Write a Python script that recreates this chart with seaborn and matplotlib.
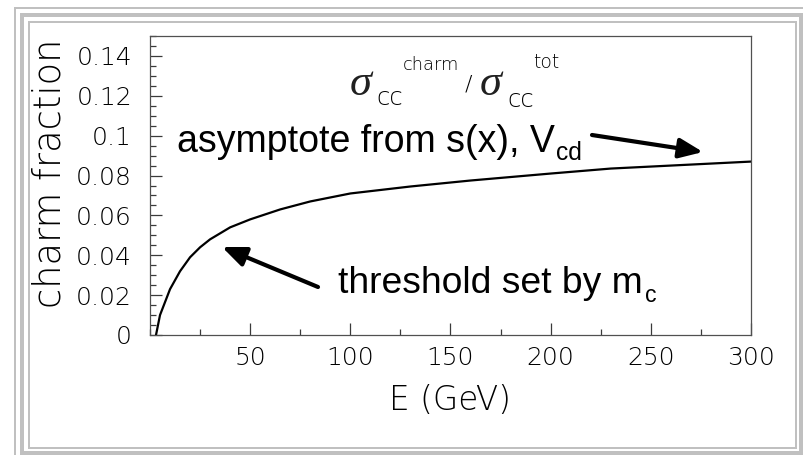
import matplotlib
matplotlib.use("Agg")
import matplotlib.pyplot as plt
from matplotlib.patches import Rectangle
from matplotlib.ticker import FixedLocator, MultipleLocator, FixedFormatter
import pandas as pd
import seaborn as sns

# Charm fraction of the charged-current cross section vs. neutrino energy
energy_gev = [3, 5, 10, 15, 20, 25, 30, 40, 50, 65, 80, 100, 130, 160, 200, 230, 260, 300]
charm_fraction = [0.0, 0.010, 0.023, 0.032, 0.039, 0.044, 0.048, 0.054, 0.058,
                  0.063, 0.067, 0.071, 0.0745, 0.0775, 0.081, 0.0835, 0.085, 0.087]

x_ticks = [50, 100, 150, 200, 250, 300]
x_tick_labels = ["50", "100", "150", "200", "250", "300"]
y_ticks = [0, 0.02, 0.04, 0.06, 0.08, 0.10, 0.12, 0.14]
y_tick_labels = ["0", "0.02", "0.04", "0.06", "0.08", "0.1", "0.12", "0.14"]

sns.set_theme(style="white")
plt.rcParams["font.family"] = ["DejaVu Sans"]

W, H = 804, 455
fig = plt.figure(figsize=(W / 100, H / 100), dpi=100)
fig.patch.set_facecolor("white")


def fx(x):
    return x / W


def fy(y):
    return 1 - y / H


def band(x0, y0, x1, y1, color="#c0c0c0"):
    fig.add_artist(Rectangle((fx(x0), fy(y1)), (x1 - x0) / W, (y1 - y0) / H,
                             transform=fig.transFigure, facecolor=color,
                             edgecolor="none", zorder=0))


# Grey ridge border around the panel
band(14, 7, 804, 9)
band(14, 7, 16, 455)
band(20, 13, 803, 17)
band(20, 13, 24, 455)
band(799, 13, 803, 455)
band(20, 451, 803, 455)
band(28, 21, 797, 23)
band(28, 21, 30, 449)
band(795, 21, 797, 449)
band(28, 447, 797, 449)

ax = fig.add_axes([fx(150), fy(335), (751 - 150) / W, (335 - 36) / H])
ax.set_facecolor("white")

df = pd.DataFrame({"E": energy_gev, "frac": charm_fraction})
sns.lineplot(data=df, x="E", y="frac", ax=ax, color="black", linewidth=1.6)

ax.set_xlim(0, 300)
ax.set_ylim(0, 0.15)
ax.xaxis.set_major_locator(FixedLocator(x_ticks))
ax.xaxis.set_major_formatter(FixedFormatter(x_tick_labels))
ax.xaxis.set_minor_locator(MultipleLocator(25))
ax.yaxis.set_major_locator(FixedLocator(y_ticks))
ax.yaxis.set_major_formatter(FixedFormatter(y_tick_labels))
ax.yaxis.set_minor_locator(MultipleLocator(0.005))

tick_color = "#3a3a3a"
label_ink = "#000000"
ax.tick_params(axis="both", which="major", direction="in", length=8.6, width=0.9,
               color=tick_color, labelsize=18, labelcolor=label_ink)
ax.tick_params(axis="both", which="minor", direction="in", length=4.3, width=0.9,
               color=tick_color)
ax.tick_params(axis="x", which="both", bottom=True, top=False, pad=8)
ax.tick_params(axis="y", which="both", left=True, right=False, pad=13)
for lab in ax.get_xticklabels() + ax.get_yticklabels():
    lab.set_fontweight("light")
for s in ax.spines.values():
    s.set_color("#505050")
    s.set_linewidth(0.9)

ax.set_xlabel("E (GeV)", fontsize=23.5, color=label_ink, fontweight="light")
ax.xaxis.set_label_coords(0.5, (335 - 384) / 299)
ax.set_ylabel("charm fraction", fontsize=26.5, color=label_ink, fontweight="light")
ax.yaxis.set_label_coords((67 - 150) / 601, (335 - 173) / 299)

# Ratio label  sigma_cc^charm / sigma_cc^tot
ink = "#202020"
sig = dict(family="Liberation Serif", style="italic", fontsize=32, color=ink, va="baseline")
sm = dict(family="DejaVu Sans", color="black", va="baseline", fontweight="light")
fig.text(fx(350), fy(95), "σ", **sig)
fig.text(fx(376), fy(105), "cc", fontsize=17.5, **sm)
fig.text(fx(403), fy(70), "charm", fontsize=12.8, **sm)
fig.text(fx(465), fy(91), "/", fontsize=16, **sm)
fig.text(fx(480), fy(95), "σ", **sig)
fig.text(fx(507), fy(107), "cc", fontsize=17.5, **sm)
fig.text(fx(533), fy(68), "tot", fontsize=13.5, **sm)

# Annotations with subscripts placed right after the main text
ann = dict(family="Liberation Sans", color="black", va="baseline")
renderer = fig.canvas.get_renderer()


def with_subscript(x, y, main, sub, size, sub_size, drop, gap):
    t = fig.text(fx(x), fy(y), main, fontsize=size, **ann)
    bb = t.get_window_extent(renderer)
    fig.text(bb.x1 / W + gap / W, fy(y + drop), sub, fontsize=sub_size, **ann)


with_subscript(177, 152, "asymptote from s(x), V", "cd", 27, 17.7, 8, 1)
with_subscript(338, 293, "threshold set by m", "c", 26.8, 16.6, 9, 2)

arrow = dict(arrowstyle="-|>,head_length=1.2,head_width=0.5", color="black",
             linewidth=3, shrinkA=0, shrinkB=0)


def data_xy(px, py):
    return ((px - 150) / 601 * 300, (335 - py) / 299 * 0.15)


ax.annotate("", xy=data_xy(703, 152), xytext=data_xy(592, 135),
            xycoords="data", textcoords="data", arrowprops=arrow, annotation_clip=False)
ax.annotate("", xy=data_xy(222, 247), xytext=data_xy(318, 287),
            xycoords="data", textcoords="data", arrowprops=arrow, annotation_clip=False)

fig.savefig("out.png", dpi=100, facecolor="white")
